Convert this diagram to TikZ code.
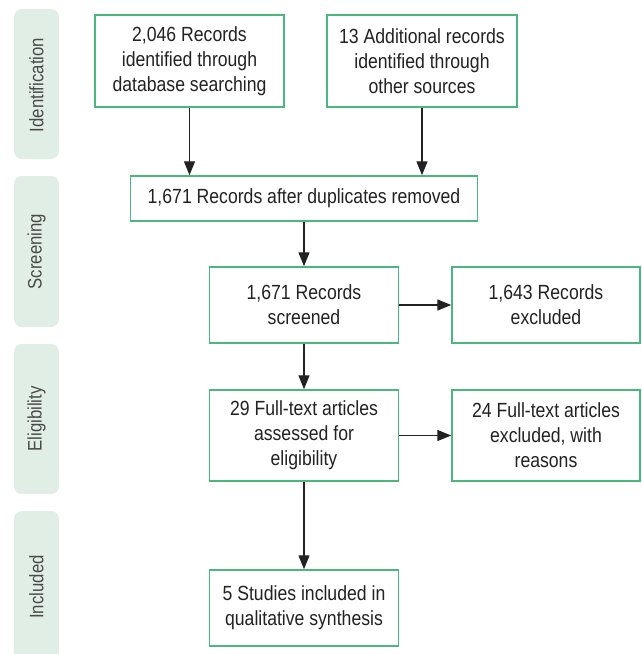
\documentclass[tikz,border=0pt]{standalone}
\usepackage{fontspec}
\setmainfont{Liberation Sans}[FakeStretch=0.86]
\usepackage{xcolor}
\usetikzlibrary{positioning, arrows.meta}
\definecolor{boxgreen}{HTML}{4DB57E}
\definecolor{bandfill}{HTML}{E1EEE5}
\definecolor{inkdark}{HTML}{222222}
\definecolor{inkgray}{HTML}{4A4A4A}

\begin{document}
\begin{tikzpicture}[x=1pt, y=-1pt,
    stagebox/.style={draw=boxgreen, line width=1.5pt, fill=white, align=center,
        text=inkdark, font={\fontsize{20.5}{25}\selectfont}, inner sep=0pt},
    band/.style={fill=bandfill, rounded corners=8pt},
    bandlabel/.style={rotate=90, text=inkgray, font={\fontsize{19.5}{22}\selectfont}},
    flow/.style={-{Triangle[length=14pt, width=11pt]}, inkdark, line width=1.4pt}
]
\clip (0,0) rectangle (641,654);

% ---- Stage bands (left) ----
\fill[band] (14,  9) rectangle (59, 159);
\fill[band] (14,176) rectangle (59, 327);
\fill[band] (14,344) rectangle (59, 494);
\fill[band] (14,511) rectangle (59, 664);
\node[bandlabel] (lidn) at (36.5,  85) {Identification};
\node[bandlabel] (lscr) at (36.5, 251.5) {Screening};
\node[bandlabel] (lelg) at (36.5, 419) {Eligibility};
\node[bandlabel] (linc) at (36.5, 587) {Included};

% ---- Identification ----
\node[stagebox, minimum width=189pt, minimum height=92pt] (dbase) at (189.5, 61)
    {2,046 Records\\identified through\\database searching};
\node[stagebox, minimum width=190pt, minimum height=92pt] (other) at (422, 61)
    {13 Additional records\\identified through\\other sources};

% ---- Screening ----
\node[stagebox, minimum width=347pt, minimum height=45pt] (dedup) at (304, 198.5)
    {1,671 Records after duplicates removed};
\node[stagebox, minimum width=189pt, minimum height=76pt] (screen) at (304, 305)
    {1,671 Records\\screened};
\node[stagebox, minimum width=188pt, minimum height=76pt] (exclA) at (546, 305)
    {1,643 Records\\excluded};

% ---- Eligibility ----
\node[stagebox, minimum width=189pt, minimum height=91pt] (fulltxt) at (304, 435.5)
    {29 Full-text articles\\assessed for\\eligibility};
\node[stagebox, minimum width=188pt, minimum height=91pt] (exclB) at (546, 435.5)
    {24 Full-text articles\\excluded, with\\reasons};

% ---- Included ----
\node[stagebox, minimum width=189pt, minimum height=76pt] (incl) at (304, 608)
    {5 Studies included in\\qualitative synthesis};

% ---- Arrows ----
\draw[flow] (dbase.south) -- (dbase.south |- dedup.north);
\draw[flow] (other.south) -- (other.south |- dedup.north);
\draw[flow] (dedup.south) -- (screen.north);
\draw[flow] (screen.east) -- (exclA.west);
\draw[flow] (screen.south) -- (fulltxt.north);
\draw[flow] (fulltxt.east) -- (exclB.west);
\draw[flow] (fulltxt.south) -- (incl.north);

\end{tikzpicture}
\end{document}
